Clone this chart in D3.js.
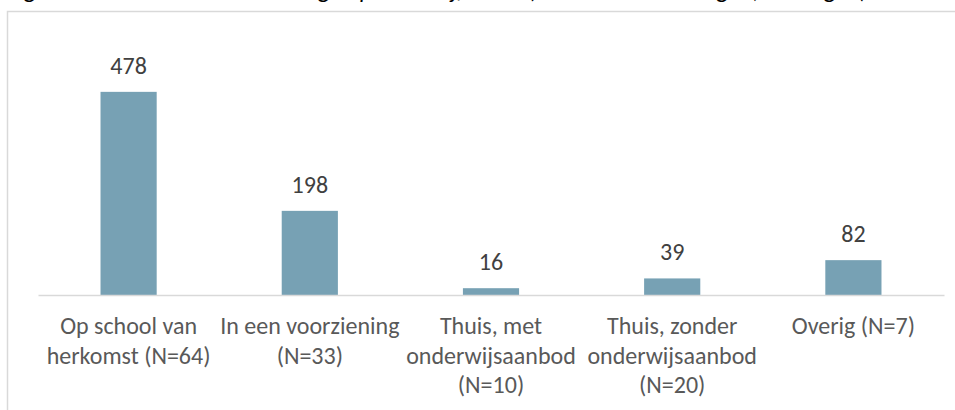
<!DOCTYPE html>
<html>
<head>
<meta charset="utf-8">
<script src="https://cdn.jsdelivr.net/npm/d3@7"></script>
<style>
  body { margin: 0; background: #fff; }
  svg { display: block; font-family: Carlito, Calibri, Lato, sans-serif; }
</style>
</head>
<body>
<div class="chart"></div>
<script>
const w = 955;
const h = 410;

// data
const categories = [
  ["Op school van", "herkomst (N=64)"],
  ["In een voorziening", "(N=33)"],
  ["Thuis, met", "onderwijsaanbod", "(N=10)"],
  ["Thuis, zonder", "onderwijsaanbod", "(N=20)"],
  ["Overig (N=7)"]
];
const values = [478, 198, 16, 39, 82];
const title = "Figuur 6. Totaal aantal schooldagen per verblijfstatus (absolute aantal dagen, leerlingen)";

const svg = d3
  .select(".chart")
  .append("svg")
  .attr("width", w)
  .attr("height", h);

// clipped title at the very top
svg
  .append("text")
  .attr("x", 8)
  .attr("y", -2)
  .attr("font-size", 24)
  .attr("font-style", "italic")
  .attr("fill", "#000")
  .text(title);

// chart area border
svg
  .append("rect")
  .attr("x", 7.5)
  .attr("y", 11.5)
  .attr("width", w + 20)
  .attr("height", h + 20)
  .attr("fill", "none")
  .attr("stroke", "#d9d9d9")
  .attr("stroke-width", 1.5);

const xScale = d3
  .scaleBand()
  .domain(d3.range(values.length))
  .range([38, 944])
  .paddingInner(0.69)
  .paddingOuter(0.345);

const yScale = d3.scaleLinear().domain([0, 600]).range([295, 40]);

// bars
svg
  .selectAll("rect.bar")
  .data(values)
  .enter()
  .append("rect")
  .attr("class", "bar")
  .attr("x", (d, i) => xScale(i))
  .attr("y", (d) => yScale(d))
  .attr("width", xScale.bandwidth())
  .attr("height", (d) => yScale(0) - yScale(d))
  .attr("fill", "#77a1b4");

// axis line
const xAxis = d3.axisBottom(xScale).tickSize(0).tickFormat("");
const gx = svg
  .append("g")
  .attr("transform", `translate(0, ${yScale(0)})`)
  .call(xAxis);
gx.select(".domain").attr("stroke", "#d9d9d9").attr("stroke-width", 1.5);

// value labels
svg
  .selectAll("text.val")
  .data(values)
  .enter()
  .append("text")
  .attr("class", "val")
  .attr("x", (d, i) => xScale(i) + xScale.bandwidth() / 2)
  .attr("y", (d) => yScale(d) - 18)
  .attr("text-anchor", "middle")
  .attr("font-size", 24)
  .attr("fill", "#404040")
  .text((d) => d);

// category labels
const cat = svg
  .selectAll("text.cat")
  .data(categories)
  .enter()
  .append("text")
  .attr("class", "cat")
  .attr("text-anchor", "middle")
  .attr("font-size", 24)
  .attr("fill", "#595959");

cat
  .selectAll("tspan")
  .data((d, i) => d.map((line) => ({ line, i })))
  .enter()
  .append("tspan")
  .attr("x", (d) => xScale(d.i) + xScale.bandwidth() / 2)
  .attr("y", (d, j) => 334 + j * 29.5)
  .text((d) => d.line);
</script>
</body>
</html>
